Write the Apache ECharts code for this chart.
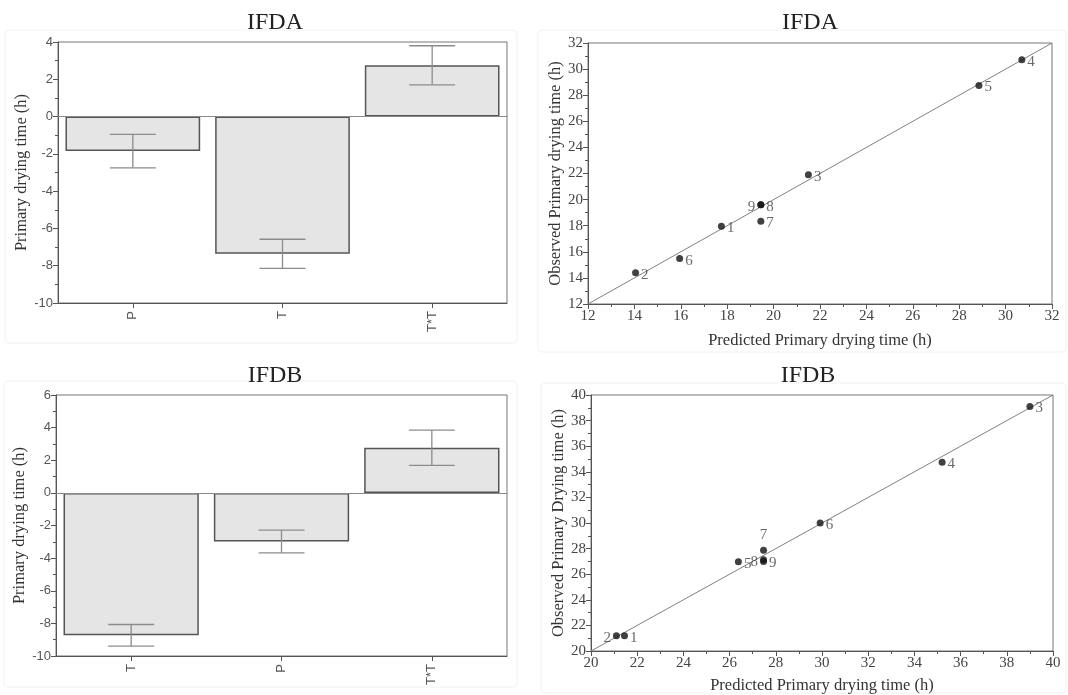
<!DOCTYPE html>
<html>
<head>
<meta charset="utf-8">
<script src="https://cdn.jsdelivr.net/npm/echarts@6/dist/echarts.min.js"></script>
<style>
  html, body { margin: 0; padding: 0; background: #fff; }
  #chart { width: 1068px; height: 695px; }
</style>
</head>
<body>
<div id="chart"></div>
<script>
// Effect estimates (h) with their error half-widths, IFDA
const termsA = ['P', 'T', 'T*T'];
const effectA = [-1.85, -7.36, 2.75];
const errA = [0.9, 0.78, 1.05];

// Effect estimates (h) with their error half-widths, IFDB
const termsB = ['T', 'P', 'T*T'];
const effectB = [-8.73, -2.98, 2.77];
const errB = [0.66, 0.7, 1.08];

// Predicted vs observed primary drying time (h), runs 1..9
const runs = ['1', '2', '3', '4', '5', '6', '7', '8', '9'];
const predictedA = [17.75, 14.05, 21.5, 30.7, 28.85, 15.95, 19.45, 19.45, 19.45];
const observedA  = [17.95, 14.4, 21.9, 30.72, 28.75, 15.48, 18.35, 19.6, 19.6];
const predictedB = [21.45, 21.1, 39.0, 35.2, 26.38, 29.92, 27.47, 27.47, 27.47];
const observedB  = [21.2, 21.2, 39.1, 34.75, 26.97, 30.0, 27.88, 27.12, 27.0];

// Axis limits
const barRangeA = [-10, 4];
const barRangeB = [-10, 6];
const fitRangeA = [12, 32];
const fitRangeB = [20, 40];

const SERIF = "'Liberation Serif', 'DejaVu Serif', 'Times New Roman', serif";
const SANS = "'Liberation Sans', Arial, sans-serif";
const AXIS_COLOR = '#555';

const chart = echarts.init(document.getElementById('chart'), null, { renderer: 'canvas' });

function valueAxis(gridIndex, range, name, nameGap, labelFont, labelSize, labelColor) {
  return {
    type: 'value',
    gridIndex,
    min: range[0],
    max: range[1],
    interval: 2,
    name,
    nameLocation: 'middle',
    nameGap,
    nameTextStyle: { fontFamily: SERIF, fontSize: 16.5, color: '#333' },
    axisLine: { show: true, onZero: false, lineStyle: { color: AXIS_COLOR, width: 1 } },
    axisTick: { show: true, inside: false, length: 5, lineStyle: { color: AXIS_COLOR } },
    minorTick: { show: true, splitNumber: 2, length: 3, lineStyle: { color: AXIS_COLOR } },
    splitLine: { show: false },
    axisLabel: { fontFamily: labelFont, fontSize: labelSize, color: labelColor, margin: 5, showMaxLabel: true, showMinLabel: true }
  };
}

function categoryAxis(gridIndex, terms) {
  return {
    type: 'category',
    gridIndex,
    data: terms,
    boundaryGap: true,
    axisLine: { show: true, onZero: false, lineStyle: { color: AXIS_COLOR, width: 1 } },
    axisTick: { show: true, alignWithLabel: true, length: 5, lineStyle: { color: AXIS_COLOR } },
    splitLine: { show: false },
    axisLabel: { fontFamily: SANS, fontSize: 13, color: '#555', rotate: 90, margin: 8 }
  };
}

function barSeries(axisIndex, values) {
  return {
    type: 'bar',
    xAxisIndex: axisIndex,
    yAxisIndex: axisIndex,
    data: values,
    barWidth: '90%',
    itemStyle: { color: '#e5e5e5', borderColor: '#555', borderWidth: 1.5 },
    silent: true,
    markLine: {
      silent: true,
      symbol: 'none',
      label: { show: false },
      lineStyle: { color: '#8a8a8a', type: 'solid', width: 1 },
      data: [{ yAxis: 0 }]
    }
  };
}

// Vertical error bar with caps, drawn through the axis coordinates
function errorSeries(axisIndex, values, errs) {
  return {
    type: 'custom',
    xAxisIndex: axisIndex,
    yAxisIndex: axisIndex,
    silent: true,
    z: 5,
    data: values.map((v, i) => [i, v - errs[i], v + errs[i]]),
    renderItem: (params, api) => {
      const top = api.coord([api.value(0), api.value(2)]);
      const bot = api.coord([api.value(0), api.value(1)]);
      const hw = 23;
      const style = { stroke: '#8c8c8c', lineWidth: 1.3 };
      return {
        type: 'group',
        children: [
          { type: 'line', shape: { x1: top[0], y1: top[1], x2: bot[0], y2: bot[1] }, style },
          { type: 'line', shape: { x1: top[0] - hw, y1: top[1], x2: top[0] + hw, y2: top[1] }, style },
          { type: 'line', shape: { x1: bot[0] - hw, y1: bot[1], x2: bot[0] + hw, y2: bot[1] }, style }
        ]
      };
    }
  };
}

function fitLine(axisIndex, range) {
  return {
    type: 'line',
    xAxisIndex: axisIndex,
    yAxisIndex: axisIndex,
    data: [[range[0], range[0]], [range[1], range[1]]],
    showSymbol: false,
    silent: true,
    lineStyle: { color: '#808080', width: 1 },
    z: 1
  };
}

function pointSeries(axisIndex, xs, ys, sides) {
  return {
    type: 'scatter',
    xAxisIndex: axisIndex,
    yAxisIndex: axisIndex,
    symbolSize: 7,
    silent: true,
    z: 3,
    itemStyle: { color: '#111' },
    label: {
      show: true,
      formatter: '{b}',
      fontFamily: SERIF,
      fontSize: 15,
      color: '#444',
      distance: 2
    },
    data: runs.map((r, i) => ({
      name: r,
      value: [xs[i], ys[i]],
      label: { position: sides[r] || 'right', offset: sides[r] === 'top' ? [0, -2] : [0, 2] }
    }))
  };
}

const sidesA = { '9': 'left' };
const sidesB = { '2': 'left', '7': 'top', '8': 'left' };

const titleStyle = { fontFamily: SERIF, fontSize: 24, fontWeight: 'normal', color: '#222' };

const option = {
  animation: false,
  backgroundColor: '#fff',
  title: [
    { text: 'IFDA', left: 270, top: 6, textAlign: 'center', textStyle: titleStyle },
    { text: 'IFDA', left: 805, top: 6, textAlign: 'center', textStyle: titleStyle },
    { text: 'IFDB', left: 270, top: 359, textAlign: 'center', textStyle: titleStyle },
    { text: 'IFDB', left: 803, top: 359, textAlign: 'center', textStyle: titleStyle }
  ],
  graphic: [
    { type: 'rect', shape: { x: 5, y: 30, width: 512, height: 313, r: 4 }, style: { fill: 'none', stroke: '#f2f2f2', lineWidth: 1 }, silent: true },
    { type: 'rect', shape: { x: 538, y: 30, width: 528, height: 322, r: 4 }, style: { fill: 'none', stroke: '#f2f2f2', lineWidth: 1 }, silent: true },
    { type: 'rect', shape: { x: 4, y: 381, width: 513, height: 306, r: 4 }, style: { fill: 'none', stroke: '#f2f2f2', lineWidth: 1 }, silent: true },
    { type: 'rect', shape: { x: 541, y: 383, width: 525, height: 310, r: 4 }, style: { fill: 'none', stroke: '#f2f2f2', lineWidth: 1 }, silent: true }
  ],
  grid: [
    { left: 58, top: 42, width: 449, height: 261, show: true, borderColor: '#777', borderWidth: 1, containLabel: false },
    { left: 588, top: 43, width: 464, height: 261, show: true, borderColor: '#777', borderWidth: 1, containLabel: false },
    { left: 56, top: 395, width: 451, height: 261, show: true, borderColor: '#777', borderWidth: 1, containLabel: false },
    { left: 591, top: 395, width: 462, height: 257, show: true, borderColor: '#777', borderWidth: 1, containLabel: false }
  ],
  xAxis: [
    categoryAxis(0, termsA),
    valueAxis(1, fitRangeA, 'Predicted Primary drying time (h)', 28, SERIF, 15, '#444'),
    categoryAxis(2, termsB),
    valueAxis(3, fitRangeB, 'Predicted Primary drying time (h)', 26, SERIF, 15, '#444')
  ],
  yAxis: [
    valueAxis(0, barRangeA, 'Primary drying time (h)', 28, SANS, 13, '#555'),
    valueAxis(1, fitRangeA, 'Observed Primary drying time (h)', 23, SERIF, 15, '#444'),
    valueAxis(2, barRangeB, 'Primary drying time (h)', 28, SANS, 13, '#555'),
    valueAxis(3, fitRangeB, 'Observed Primary Drying time (h)', 23, SERIF, 15, '#444')
  ],
  series: [
    barSeries(0, effectA),
    errorSeries(0, effectA, errA),
    fitLine(1, fitRangeA),
    pointSeries(1, predictedA, observedA, sidesA),
    barSeries(2, effectB),
    errorSeries(2, effectB, errB),
    fitLine(3, fitRangeB),
    pointSeries(3, predictedB, observedB, sidesB)
  ]
};

chart.setOption(option);
</script>
</body>
</html>
